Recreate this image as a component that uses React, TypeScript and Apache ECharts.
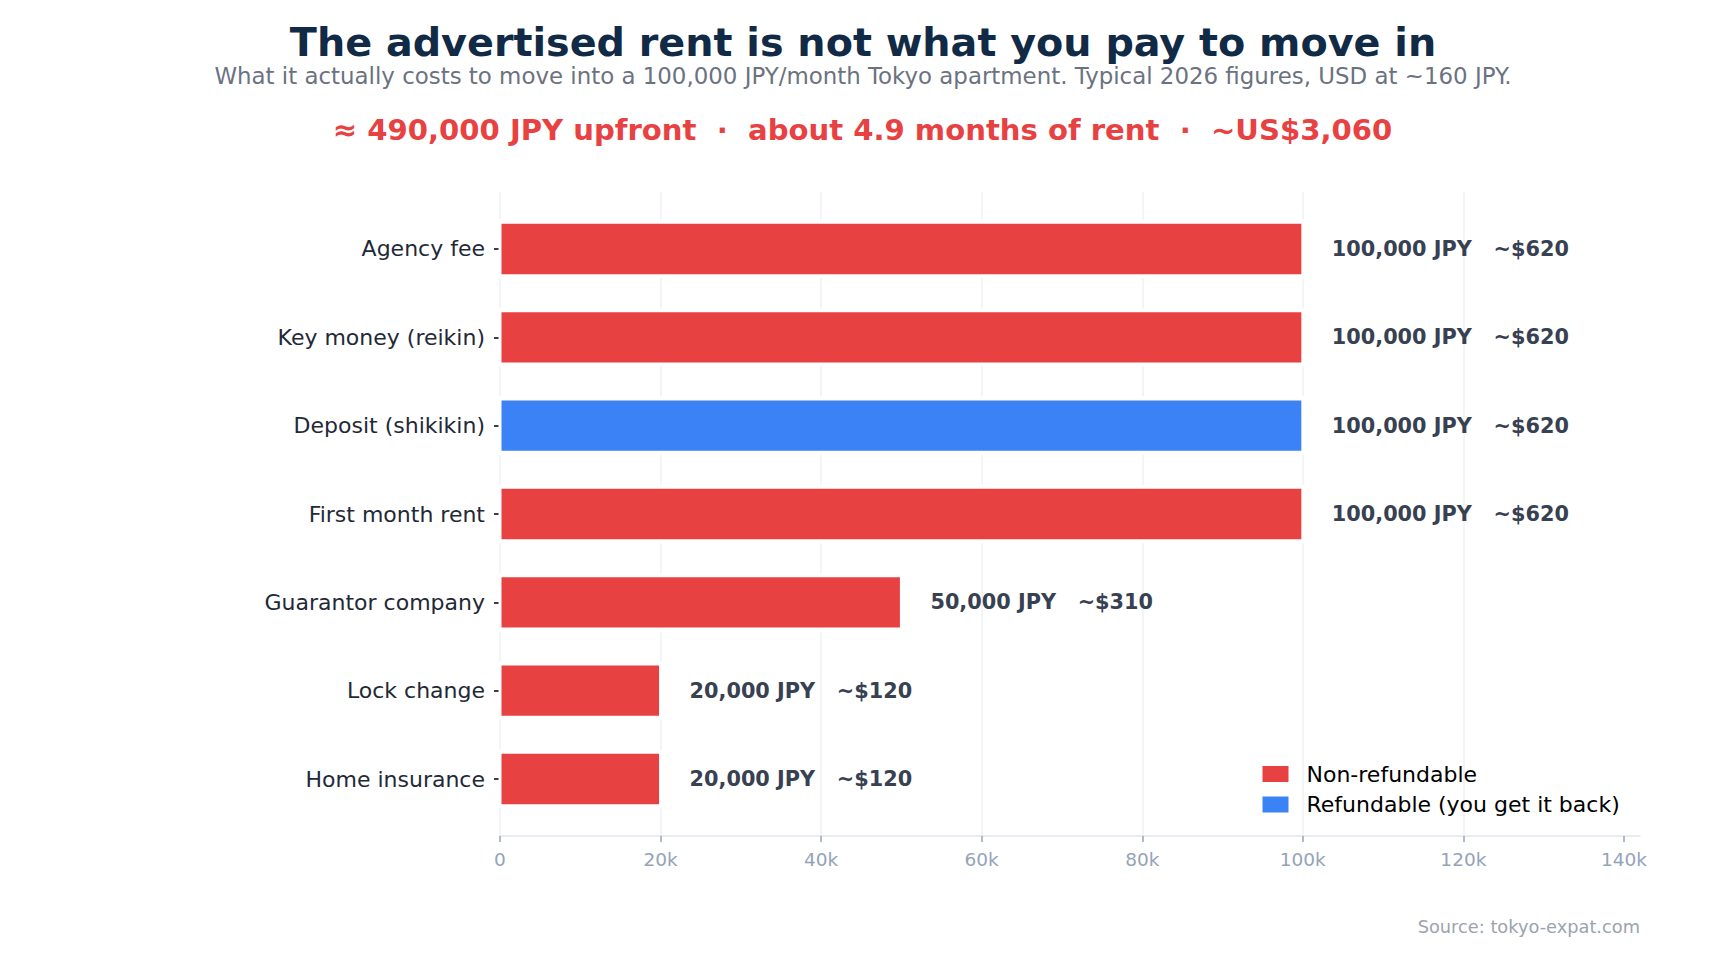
import React, { useEffect, useRef } from 'react';
import * as echarts from 'echarts';

// move-in cost breakdown for a 100,000 JPY/month apartment
const categories = [
  'Agency fee',
  'Key money (reikin)',
  'Deposit (shikikin)',
  'First month rent',
  'Guarantor company',
  'Lock change',
  'Home insurance',
];
const amountsJPY = [100000, 100000, 100000, 100000, 50000, 20000, 20000];
const amountsUSD = [620, 620, 620, 620, 310, 120, 120];
const refundable = [false, false, true, false, false, false, false];
const xTicks = [0, 20000, 40000, 60000, 80000, 100000, 120000, 140000];
const yTicks = [0, 1, 2, 3, 4, 5, 6];

const TITLE = 'The advertised rent is not what you pay to move in';
const SUBTITLE =
  'What it actually costs to move into a 100,000 JPY/month Tokyo apartment. Typical 2026 figures, USD at ~160 JPY.';
const CALLOUT = '\u2248 490,000 JPY upfront  \u00b7  about 4.9 months of rent  \u00b7  ~US$3,060';
const SOURCE = 'Source: tokyo-expat.com';

const FONT = "'DejaVu Sans', sans-serif";
const RED = '#e84142';
const BLUE = '#3b82f6';

const renderBar = (params: any, api: any) => {
  const v = api.value(0);
  const idx = api.value(1);
  const usd = api.value(2);
  const start = api.coord([0, idx]);
  const end = api.coord([v, idx]);
  const cy = start[1];
  const half = api.size([0, 0.57])[1] / 2;
  const color = api.visual('color');
  return {
    type: 'group',
    children: [
      {
        // white halo like a matplotlib edge
        type: 'rect',
        shape: { x: start[0] - 1.5, y: cy - half - 4, width: end[0] - start[0] + 3, height: half * 2 + 8 },
        style: { fill: '#ffffff' },
      },
      {
        type: 'rect',
        shape: { x: start[0] + 1.5, y: cy - half, width: end[0] - start[0] - 3, height: half * 2 },
        style: { fill: color },
      },
      {
        type: 'text',
        x: end[0] + 29,
        y: cy,
        style: {
          text: `${v.toLocaleString('en-US')} JPY   ~$${usd}`,
          fontSize: 20.8,
          fontWeight: 'bold',
          fontFamily: FONT,
          fill: '#374151',
          align: 'left',
          textAlign: 'left',
          verticalAlign: 'middle',
          textVerticalAlign: 'middle',
        },
      },
    ],
  };
};

const seriesData = (wantRefundable: boolean) =>
  categories
    .map((_, i) => [amountsJPY[i], i, amountsUSD[i], refundable[i]])
    .filter((d) => d[3] === wantRefundable)
    .map((d) => [d[0], d[1], d[2]]);

const textEl = (text: string, x: number, y: number, size: number, color: string, bold: boolean, align = 'center') => ({
  type: 'text',
  x,
  y,
  style: {
    text,
    fontSize: size,
    fontWeight: bold ? 'bold' : 'normal',
    fontFamily: FONT,
    fill: color,
    align,
    textAlign: align,
    verticalAlign: 'middle',
    textVerticalAlign: 'middle',
  },
});

const App: React.FC = () => {
  const chartRef = useRef<HTMLDivElement>(null);

  useEffect(() => {
    const chart = echarts.init(chartRef.current!, null, { renderer: 'svg' });

    const options = {
      animation: false,
      backgroundColor: '#ffffff',
      textStyle: { fontFamily: FONT },
      grid: { left: 500, top: 192, width: 1140, height: 644, containLabel: false },
      graphic: [
        textEl(TITLE, 863, 42, 39.7, '#112a46', true),
        textEl(SUBTITLE, 863, 75.5, 22.9, '#6b7280', false),
        textEl(CALLOUT, 862.5, 130, 29.1, RED, true),
        textEl(SOURCE, 1640, 926, 17.8, '#9ca3af', false, 'right'),
      ],
      legend: {
        orient: 'vertical',
        left: 1257.5,
        top: 758,
        itemWidth: 26,
        itemHeight: 16,
        itemGap: 8.5,
        icon: 'rect',
        selectedMode: false,
        data: ['Non-refundable', 'Refundable (you get it back)'],
        textStyle: { fontSize: 22, color: '#000000', fontFamily: FONT, padding: [0, 0, 0, 13] },
      },
      xAxis: {
        type: 'value',
        min: 0,
        max: 142000,
        interval: 20000,
        axisLine: { show: true, onZero: false, lineStyle: { color: '#e2e5ec', width: 1.5 } },
        axisTick: { show: true, customValues: xTicks, length: 6, lineStyle: { color: '#94a3b8', width: 1.5 } },
        axisLabel: {
          customValues: xTicks,
          margin: 14,
          fontSize: 18.5,
          color: '#94a3b8',
          formatter: (v: number) => (v === 0 ? '0' : `${v / 1000}k`),
        },
        splitLine: { show: true, showMinLine: true, showMaxLine: false, lineStyle: { color: '#eff1f5', width: 1.5 } },
      },
      yAxis: {
        type: 'value',
        inverse: true,
        min: -0.645,
        max: 6.645,
        axisLine: { show: false, onZero: false },
        axisTick: { show: true, customValues: yTicks, length: 6, lineStyle: { color: '#1f2937', width: 1.8 } },
        axisLabel: {
          customValues: yTicks,
          margin: 15,
          fontSize: 22,
          color: '#1f2937',
          formatter: (v: number) => categories[Math.round(v)] ?? '',
        },
        splitLine: { show: false },
      },
      series: [
        {
          name: 'Non-refundable',
          type: 'custom',
          renderItem: renderBar,
          itemStyle: { color: RED },
          encode: { x: 0, y: 1 },
          data: seriesData(false),
        },
        {
          name: 'Refundable (you get it back)',
          type: 'custom',
          renderItem: renderBar,
          itemStyle: { color: BLUE },
          encode: { x: 0, y: 1 },
          data: seriesData(true),
        },
      ],
    };

    chart.setOption(options);

    return () => {
      chart.dispose();
    };
  }, []);

  return (
    <div
      ref={chartRef}
      style={{ position: 'fixed', left: 0, top: 0, width: '1725px', height: '960px' }}
    />
  );
};

export default App;
